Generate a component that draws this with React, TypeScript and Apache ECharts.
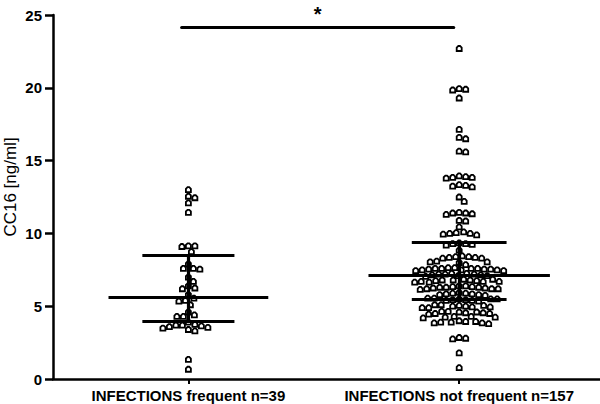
import React, { useEffect, useRef } from 'react';
import * as echarts from 'echarts';

const categories = ['INFECTIONS frequent n=39', 'INFECTIONS not frequent n=157'];
const groupPositions = [1, 3];
const yAxisTitle = 'CC16 [ng/ml]';

const frequentValues = [
  13.0, 12.55, 12.45, 12.1, 11.45,
  9.15, 9.15, 9.1, 8.75,
  7.9, 7.6, 7.6, 7.55, 7.0,
  6.7, 6.4, 6.25, 6.2,
  5.8, 5.55, 5.4, 5.35, 5.1,
  4.6, 4.4, 4.3, 4.3,
  3.9, 3.75, 3.7, 3.7, 3.65, 3.6, 3.55, 3.5, 3.4, 3.3,
  1.35, 0.67,
];

const notFrequentValues = [
  22.7,
  19.95, 19.9, 19.85, 19.3,
  17.15, 16.6, 16.5, 15.65, 15.6,
  13.95, 13.9, 13.85, 13.85, 13.8,
  13.35, 13.3, 13.25, 13.2,
  12.5, 12.2,
  11.45, 11.4, 11.4, 11.35, 11.3,
  10.9, 10.85, 10.45,
  10.1, 10.05, 10.0, 10.0, 9.95, 9.9,
  9.35, 9.3, 9.3, 9.25, 9.2,
  8.85,
  8.45, 8.4, 8.4, 8.35, 8.35, 8.3, 8.3,
  8.1, 8.05, 8.05, 8.0,
  7.85,
  7.65, 7.65, 7.6, 7.6, 7.6, 7.6, 7.55, 7.55, 7.55, 7.5, 7.5, 7.5, 7.45, 7.45,
  7.25, 7.25, 7.2, 7.2, 7.2, 7.15, 7.15, 7.1, 7.1, 7.05,
  6.85, 6.85, 6.8, 6.8, 6.8, 6.75, 6.75, 6.7, 6.7, 6.7, 6.65, 6.65,
  6.4, 6.4, 6.35, 6.35, 6.3, 6.3, 6.3, 6.25, 6.25, 6.2, 6.2, 6.2, 6.15,
  5.95, 5.9, 5.9, 5.85, 5.85, 5.8, 5.8, 5.75,
  5.55, 5.55, 5.5, 5.5, 5.5, 5.45, 5.45, 5.4, 5.4, 5.35,
  5.1, 5.1, 5.05, 5.05, 5.0, 5.0, 4.95, 4.95, 4.9, 4.9,
  4.65, 4.65, 4.6, 4.6, 4.55, 4.55, 4.5, 4.5, 4.45,
  4.3, 4.3, 4.25, 4.25, 4.2,
  4.0, 3.95, 3.95, 3.9, 3.9, 3.85, 3.85, 3.8,
  2.85, 2.8, 2.75,
  1.8, 0.78,
];

const medians = [5.6, 7.1];
const lowerQuartiles = [4.0, 5.5];
const upperQuartiles = [8.5, 9.4];
const medianHalfWidths = [0.59, 0.67];
const quartileHalfWidths = [0.34, 0.35];

const significanceLevel = 24.15;
const significanceFrom = 0.95;
const significanceTo = 2.96;
const significanceMark = '*';

const yMin = 0;
const yMax = 25;
const yInterval = 5;
const xMin = 0;
const xMax = 4.04;

const W = 600;
const H = 404;
const GRID = { left: 53, right: 0, top: 15, bottom: 25 };
const FONT = '"Liberation Sans", Arial, sans-serif';

function swarm(values: number[], center: number, pxPerX: number, pxPerY: number, diameter: number): number[][] {
  const sorted = [...values].sort((a, b) => b - a);
  const placed: { x: number; y: number }[] = [];
  const out: number[][] = [];
  for (const v of sorted) {
    const y = v * pxPerY;
    let chosen = 0;
    for (let k = 0; k < 600; k++) {
      const m = Math.ceil(k / 2) * 0.5;
      const x = k % 2 === 1 ? m : -m;
      let ok = true;
      for (const p of placed) {
        const dx = x - p.x;
        const dy = y - p.y;
        if (dx * dx + dy * dy < diameter * diameter) {
          ok = false;
          break;
        }
      }
      if (ok) {
        chosen = x;
        break;
      }
    }
    placed.push({ x: chosen, y });
    out.push([center + chosen / pxPerX, v]);
  }
  return out;
}

export default function App() {
  const ref = useRef<HTMLDivElement>(null);
  useEffect(() => {
    if (!ref.current) return;
    const chart = echarts.init(ref.current, undefined, { renderer: 'svg' });
    const pxPerX = (W - GRID.left - GRID.right) / (xMax - xMin);
    const pxPerY = (H - GRID.top - GRID.bottom) / (yMax - yMin);
    const groups = [frequentValues, notFrequentValues];
    const black = '#000';
    const lineStyle = { color: black, width: 3.2, type: 'solid' as const, cap: 'butt' as const };

    const markData: any[] = [];
    groupPositions.forEach((c, i) => {
      markData.push([
        { coord: [c - medianHalfWidths[i], medians[i]] },
        { coord: [c + medianHalfWidths[i], medians[i]] },
      ]);
      markData.push([
        { coord: [c - quartileHalfWidths[i], lowerQuartiles[i]] },
        { coord: [c + quartileHalfWidths[i], lowerQuartiles[i]] },
      ]);
      markData.push([
        { coord: [c - quartileHalfWidths[i], upperQuartiles[i]] },
        { coord: [c + quartileHalfWidths[i], upperQuartiles[i]] },
      ]);
      markData.push([
        { coord: [c, lowerQuartiles[i]] },
        { coord: [c, upperQuartiles[i]] },
      ]);
    });
    markData.push([
      {
        coord: [significanceFrom, significanceLevel],
        lineStyle: { color: black, width: 3, type: 'solid', cap: 'round' },
        label: {
          show: true,
          formatter: significanceMark,
          position: 'middle',
          color: black,
          fontSize: 20,
          lineHeight: 20,
          fontWeight: 'bold',
          fontFamily: FONT,
          distance: 3,
        },
      },
      { coord: [significanceTo, significanceLevel] },
    ]);

    const symbol = 'path://M0,2 L2,0 L4,0 L6,2 L6,6 L0,6 Z';

    chart.setOption({
      animation: false,
      backgroundColor: '#fff',
      grid: { ...GRID, containLabel: false, outerBoundsMode: 'none' },
      graphic: [
        {
          type: 'text',
          x: 10,
          y: 187,
          rotation: Math.PI / 2,
          silent: true,
          style: {
            text: yAxisTitle,
            fill: black,
            fontSize: 17,
            fontFamily: FONT,
            align: 'center',
            verticalAlign: 'middle',
          },
        },
      ],
      xAxis: {
        type: 'value',
        min: xMin,
        max: xMax,
        splitLine: { show: false },
        axisLine: { show: true, onZero: false, lineStyle: { color: black, width: 2.5 } },
        axisTick: { show: true, customValues: groupPositions, length: 5, lineStyle: { color: black, width: 2 } },
        axisLabel: {
          show: true,
          customValues: groupPositions,
          formatter: (v: number) => {
            const idx = groupPositions.indexOf(Math.round(v));
            return idx >= 0 ? categories[idx] : '';
          },
          margin: 9,
          color: black,
          fontSize: 15,
          fontWeight: 'bold',
          fontFamily: FONT,
        },
      },
      yAxis: {
        type: 'value',
        min: yMin,
        max: yMax,
        interval: yInterval,
        splitLine: { show: false },
        axisLine: { show: true, lineStyle: { color: black, width: 2.5 } },
        axisTick: { show: true, length: 8, lineStyle: { color: black, width: 2.5 } },
        axisLabel: { margin: 11, color: black, fontSize: 15, fontWeight: 'bold', fontFamily: FONT },
      },
      series: [
        ...groups.map((vals, i) => ({
          type: 'scatter',
          name: categories[i],
          data: swarm(vals, groupPositions[i], pxPerX, pxPerY, 6.5),
          symbol,
          symbolSize: 5,
          itemStyle: { color: '#fff', borderColor: black, borderWidth: 1.8, opacity: 1 },
          emphasis: { disabled: true },
          silent: true,
          z: 2,
        })),
        {
          type: 'scatter',
          data: [],
          silent: true,
          z: 5,
          markLine: {
            silent: true,
            animation: false,
            symbol: ['none', 'none'],
            lineStyle,
            label: { show: false },
            emphasis: { disabled: true },
            data: markData,
          },
        },
      ],
    });
    return () => chart.dispose();
  }, []);
  return <div ref={ref} style={{ position: 'fixed', left: 0, top: 0, width: W, height: H }} />;
}
